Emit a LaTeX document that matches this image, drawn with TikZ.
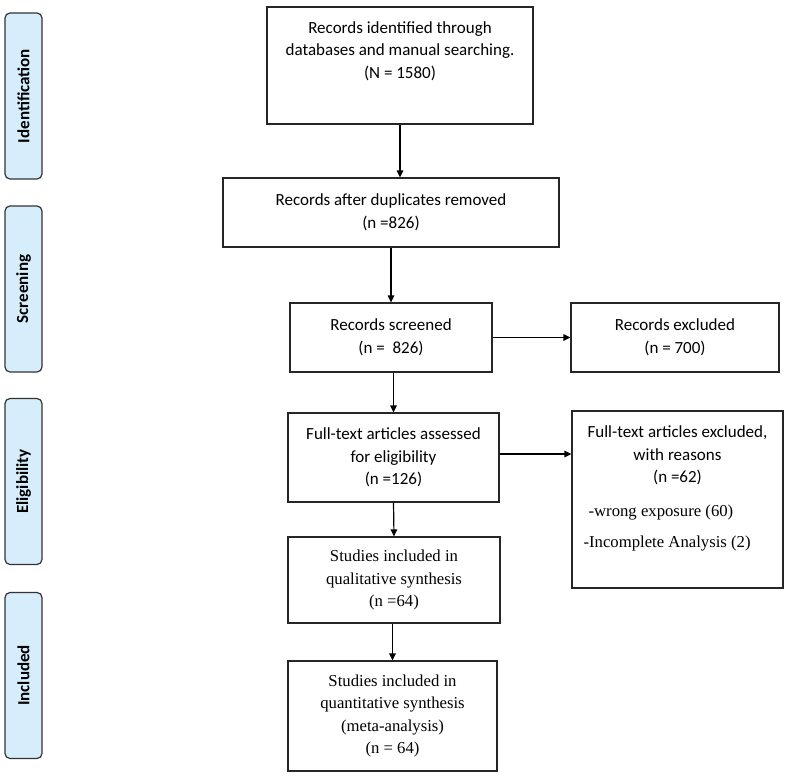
\documentclass[tikz,border=0pt]{standalone}
\usepackage{fontspec}
\setmainfont{Carlito}
\newfontfamily\timesfont{Liberation Serif}
\usetikzlibrary{arrows.meta}
\definecolor{stageblue}{RGB}{214,238,251}

\begin{document}
\begin{tikzpicture}
[every node/.style={inner sep=0pt},
 >={Triangle[length=7pt, width=6.5pt]},
 box/.style={draw=black!85, line width=1.2pt, align=center, font=\fontsize{17}{22.5}\selectfont},
 serifbox/.style={box, font=\timesfont\fontsize{16.7}{22.5}\selectfont},
 stage/.style={draw=black!80, fill=stageblue, line width=1.2pt, rounded corners=5pt, rotate=90, minimum width=166pt, minimum height=37pt, font=\bfseries\fontsize{17}{18}\selectfont},
 flow/.style={line width=1.2pt, ->}]
\useasboundingbox (0pt, 0pt) rectangle (787pt, -777pt);
\node (identification) [stage] at (23.5pt, -96.0pt) {Identification};
\node (screening) [stage] at (23.5pt, -289.0pt) {Screening};
\node (eligibility) [stage] at (23.5pt, -481.5pt) {Eligibility};
\node (included) [stage] at (23.5pt, -675.5pt) {Included};
\node (identified) [box, minimum width=266pt, minimum height=117pt] at (400.0pt, -65.5pt) {};
\node (identified-txt) [box, draw=none, anchor=north] at (400.0pt, -21.0pt) {Records identified through\\databases and manual searching.\\(N = 1580)};
\node (deduped) [box, minimum width=336pt, minimum height=69pt] at (391.0pt, -212.5pt) {Records after duplicates removed\\(n =826)};
\node (screened) [box, minimum width=202pt, minimum height=69pt] at (391.0pt, -337.5pt) {Records screened\\(n =\ \ 826)};
\node (excluded) [box, minimum width=208pt, minimum height=69pt] at (675.0pt, -337.5pt) {Records excluded\\(n = 700)};
\node (assessed) [box, minimum width=211pt, minimum height=89pt] at (393.5pt, -457.5pt) {Full-text articles assessed\\for eligibility\\(n =126)};
\node (ftexcluded) [box, minimum width=211pt, minimum height=177pt] at (677.5pt, -499.5pt) {};
\node (ftexcluded-txt) [box, draw=none, anchor=north] at (677.5pt, -425.5pt) {Full-text articles excluded,\\with reasons\\(n =62)};
\node (reasons) [box, draw=none, align=left, anchor=north west, font=\timesfont\fontsize{16.7}{31}\selectfont] at (583.0pt, -504.5pt) {\hspace{5pt}-wrong exposure (60)\\-Incomplete Analysis (2)};
\node (qualitative) [serifbox, minimum width=212pt, minimum height=86pt] at (394.0pt, -580.0pt) {Studies included in\\qualitative synthesis\\(n =64)};
\node (quantitative) [serifbox, minimum width=209pt, minimum height=110pt] at (392.5pt, -716.0pt) {Studies included in\\quantitative synthesis\\(meta-analysis)\\(n = 64)};
\draw [flow] (identified.south) to (identified.south |- deduped.north);
\draw [flow] (screened.north |- deduped.south) to (screened.north);
\draw [flow] (assessed.north |- screened.south) to (assessed.north);
\draw [flow] (assessed.south) to (qualitative.north);
\draw [flow] (quantitative.north |- qualitative.south) to (quantitative.north);
\draw [flow] (screened.east) to (excluded.west);
\draw [flow] ([yshift=3.5pt]assessed.east) to ([yshift=3.5pt]assessed.east -| ftexcluded.west);

\end{tikzpicture}
\end{document}
